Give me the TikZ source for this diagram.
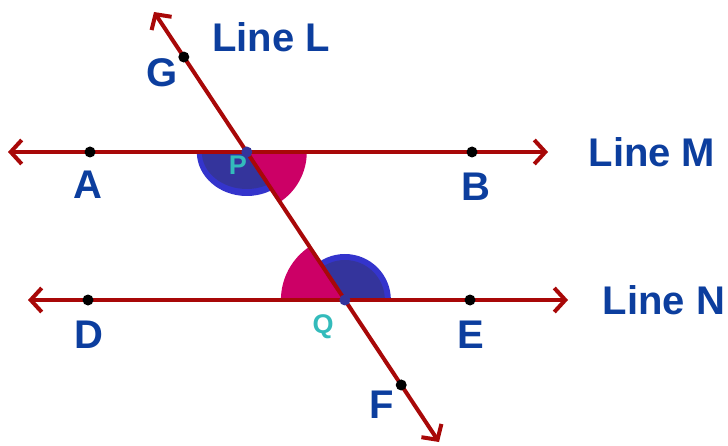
\documentclass[tikz,border=0pt]{standalone}
\usepackage{fontspec}
\setmainfont{Liberation Sans}
\usetikzlibrary{arrows.meta,calc}
\definecolor{linered}{HTML}{A80808}
\definecolor{pinkc}{HTML}{CC0066}
\definecolor{blueout}{HTML}{3434CC}
\definecolor{bluein}{HTML}{34349C}
\definecolor{lblue}{HTML}{0C3E9E}
\definecolor{cyanc}{HTML}{33BBBB}
\tikzset{
  ray/.style={draw=linered, line width=4pt,
    arrows={Straight Barb[length=11pt,width=24pt]-Straight Barb[length=11pt,width=24pt]}},
  dot/.style={circle, fill=black, inner sep=0pt, minimum size=11pt},
  ndot/.style={circle, fill=bluein, inner sep=0pt, minimum size=11pt},
  lbl/.style={text=lblue, font=\fontsize{40}{44}\selectfont\bfseries, inner sep=0pt},
  plbl/.style={text=cyanc, font=\fontsize{27}{30}\selectfont\bfseries, inner sep=0pt},
}
\begin{document}
\begin{tikzpicture}[x=1pt,y=1pt]
\useasboundingbox (0,0) rectangle (728,445);
\coordinate (Mleft) at (8,293);
\coordinate (Mright) at (548,293);
\coordinate (Nleft) at (28,145);
\coordinate (Nright) at (568,145);
\coordinate (Ltop) at (154,433);
\coordinate (Lbot) at (439,3);
\coordinate (P) at (intersection of Ltop--Lbot and Mleft--Mright);
\coordinate (Q) at (intersection of Ltop--Lbot and Nleft--Nright);
% angle sectors at P
\fill[pinkc] (P) -- ++(0:60pt) arc[start angle=0, end angle=-56.47, radius=60pt] -- cycle;
\begin{scope}
  \clip (P) -- ($(P)+(180:150pt)$) -- ($(P)+(240:150pt)$) -- ($(P)+(303.53:150pt)$) -- cycle;
  \fill[blueout] (P) ellipse[x radius=50pt, y radius=44pt];
  \fill[bluein] (P) ellipse[x radius=45pt, y radius=37pt];
\end{scope}
% angle sectors at Q
\fill[pinkc] (Q) -- ++(180:64pt) arc[start angle=180, end angle=123.53, radius=64pt] -- cycle;
\begin{scope}
  \clip (Q) -- ($(Q)+(0:150pt)$) -- ($(Q)+(60:150pt)$) -- ($(Q)+(123.53:150pt)$) -- cycle;
  \fill[blueout] (Q) circle[radius=46pt];
  \fill[bluein] (Q) circle[radius=40pt];
\end{scope}
% lines
\draw[ray] (Mleft) -- (Mright);
\draw[ray] (Nleft) -- (Nright);
\draw[ray] (Ltop) -- (Lbot);
% points
\node[dot] (A) at (90,293) {};
\node[dot] (B) at (472,293) {};
\node[dot] (D) at (88,145) {};
\node[dot] (E) at (470,145) {};
\node[dot] (G) at ($(Ltop)!0.1047!(Lbot)$) {};
\node[dot] (F) at ($(Ltop)!0.8674!(Lbot)$) {};
\node[ndot] (Pdot) at (P) {};
\node[ndot] (Qdot) at (Q) {};
% labels
\node[lbl] (labL) at (271,408) {Line L};
\node[lbl] (labM) at (652,292.5) {Line M};
\node[lbl] (labN) at (664,145) {Line N};
\node[lbl] (labA) at (88,260) {A};
\node[lbl] (labB) at (476,258) {B};
\node[lbl] (labD) at (89,110) {D};
\node[lbl] (labE) at (471,110) {E};
\node[lbl] (labG) at (162,372) {G};
\node[lbl] (labF) at (382,40) {F};
\node[plbl] (labP) at (238,280) {P};
\node[plbl] (labQ) at (323,118) {Q};
\end{tikzpicture}
\end{document}
